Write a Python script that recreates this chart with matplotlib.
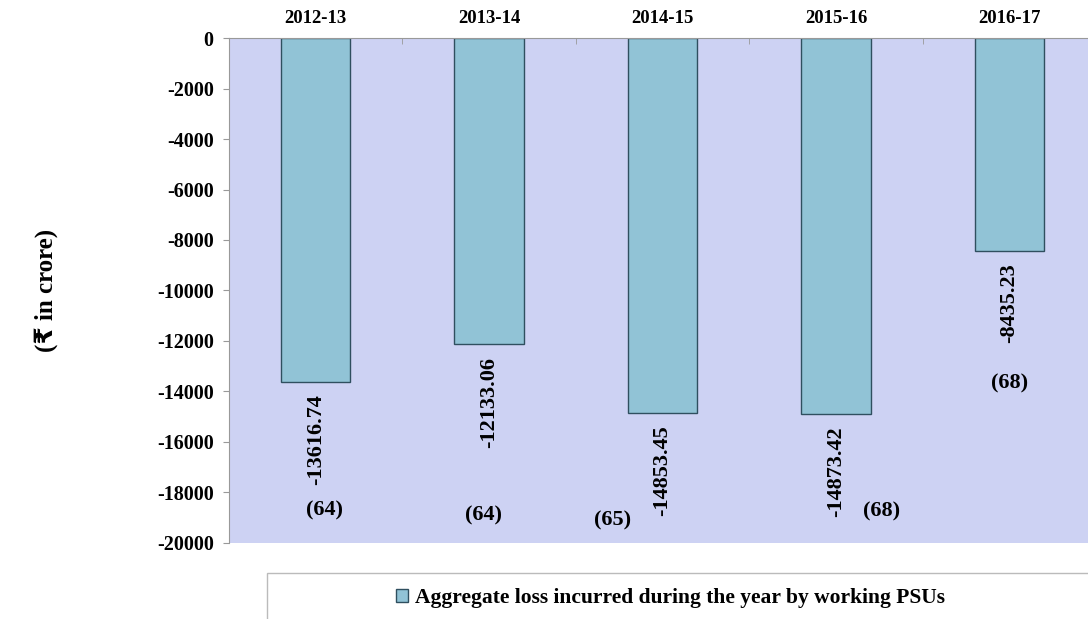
import numpy as np
import matplotlib.pyplot as plt
from matplotlib.patches import Rectangle

# Datos
years = ['2012-13', '2013-14', '2014-15', '2015-16', '2016-17']
losses = [-13616.74, -12133.06, -14853.45, -14873.42, -8435.23]
psu_counts = [64, 64, 65, 68, 68]
# posicion de las etiquetas de numero de PSUs (desplazamiento x, valor y)
count_dx = [0.05, -0.03, -0.29, 0.26, 0.0]
count_y = [-18700, -18930, -19090, -18770, -13700]

serif = ['Liberation Serif', 'DejaVu Sans']
bg = '#cdd2f3'
bar_color = '#91c3d6'

fig = plt.figure(figsize=(10.88, 6.19), dpi=100)
ax = fig.add_axes([0.2105, 0.1228, 0.797, 0.8158])
ax.set_facecolor(bg)

x = np.arange(len(years))
ax.bar(x, losses, width=0.40, color=bar_color, edgecolor='#2f4f5f', linewidth=1.0, zorder=2,
       label='Aggregate loss incurred during the year by working PSUs')

ax.set_xlim(-0.5, len(years) - 0.5)
ax.set_ylim(-20000, 0)
ax.set_yticks(np.arange(-20000, 1, 2000))
ax.set_yticklabels([f'{v:d}' for v in np.arange(-20000, 1, 2000)], fontfamily=serif,
                   fontweight='bold', fontsize=14.5)
ax.tick_params(axis='y', direction='out', length=4, color='#999999', pad=7)

# categorias arriba
ax.xaxis.tick_top()
ax.set_xticks(x)
ax.set_xticklabels(years, fontfamily=serif, fontweight='bold', fontsize=13.5)
ax.set_xticks(np.arange(-0.5, len(years), 1.0), minor=True)
ax.tick_params(axis='x', which='major', length=0, pad=8)
ax.tick_params(axis='x', which='minor', direction='in', length=4, color='#999999')

for s in ['right', 'bottom']:
    ax.spines[s].set_visible(False)
for s in ['left', 'top']:
    ax.spines[s].set_color('#999999')

# etiquetas de valores
for xi, v in zip(x, losses):
    ax.annotate(f'{v:.2f}', (xi, v), xytext=(0, -9), textcoords='offset points',
                rotation=90, ha='center', va='top', fontfamily=serif,
                fontweight='bold', fontsize=16)

for xi, c, dx, cy in zip(x, psu_counts, count_dx, count_y):
    ax.text(xi + dx, cy, f'({c})', ha='center', va='center', fontfamily=serif,
            fontweight='bold', fontsize=16)

fig.text(0.042, 0.53, '(₹ in crore)', rotation=90, ha='center', va='center',
         fontfamily=serif, fontweight='bold', fontsize=18)

# leyenda
fig.patches.append(Rectangle((0.2455, -0.1), 0.8, 0.175, transform=fig.transFigure,
                             facecolor='white', edgecolor='#bbbbbb', linewidth=1.0))
leg = fig.legend(loc='center', bbox_to_anchor=(0.616, 0.034), frameon=False,
                 handlelength=0.6, handleheight=0.6, handletextpad=0.3,
                 prop={'family': serif, 'weight': 'bold', 'size': 15.5})

fig.savefig('out.png', dpi=100)
